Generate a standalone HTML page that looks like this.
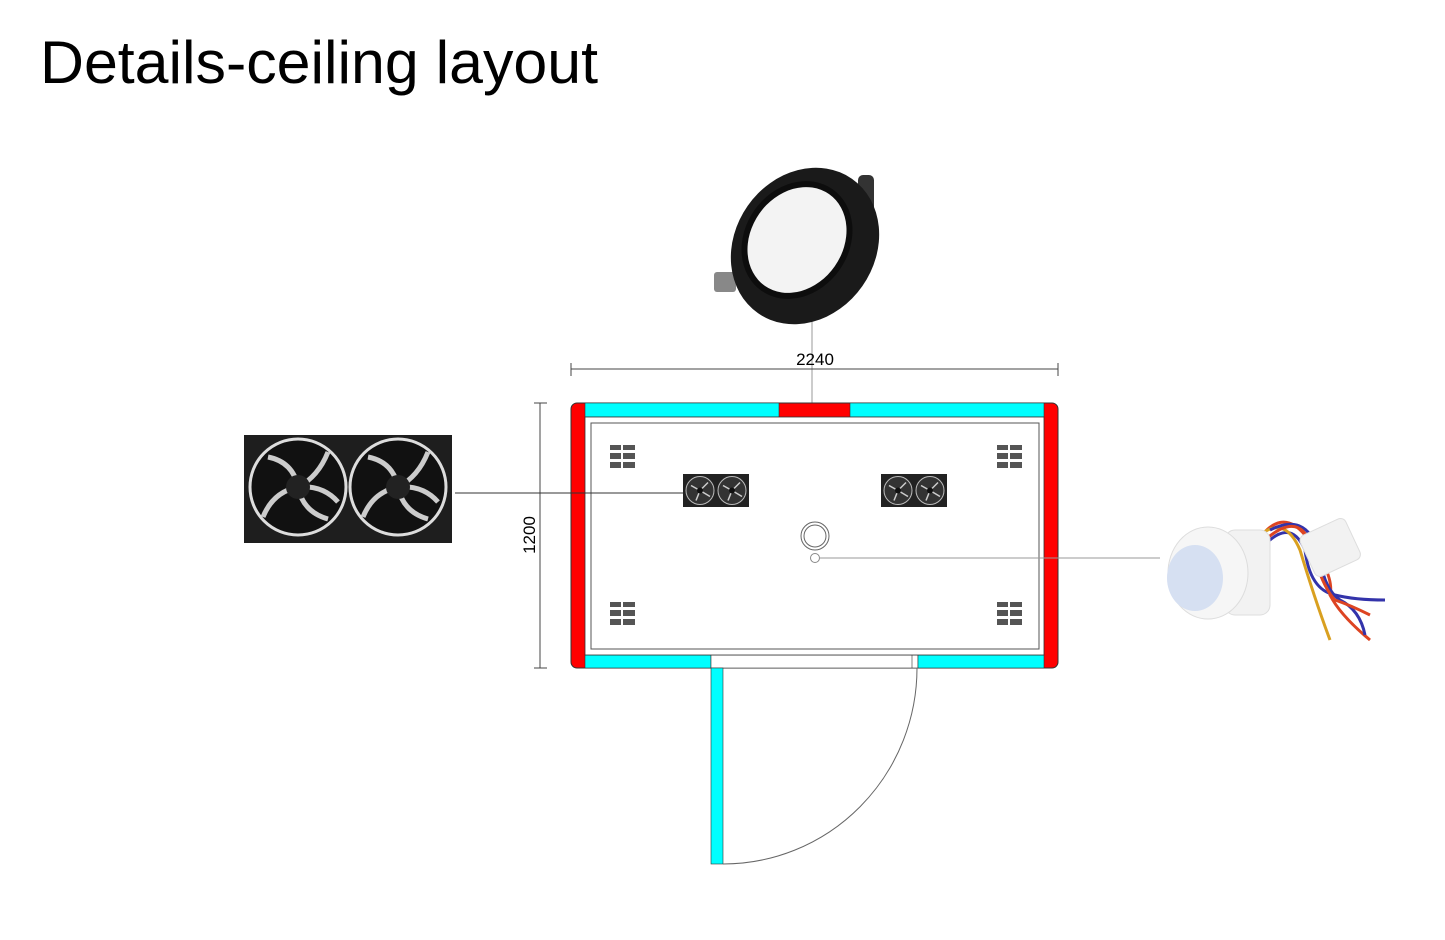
<!DOCTYPE html>
<html><head><meta charset="utf-8"><style>
body{margin:0;background:#fff;width:1445px;height:935px;overflow:hidden}
</style></head><body>
<svg width="1445" height="935" viewBox="0 0 1445 935" xmlns="http://www.w3.org/2000/svg">
<defs>
<g id="v" fill="#555"><rect x="0" y="0" width="11" height="5"/><rect x="13" y="0" width="12" height="5"/><rect x="0" y="8" width="11" height="6"/><rect x="13" y="8" width="12" height="6"/><rect x="0" y="17" width="11" height="6"/><rect x="13" y="17" width="12" height="6"/></g>
<g id="sf">
<rect x="0" y="0" width="66" height="33" fill="#222"/>
<circle cx="17" cy="16.5" r="14" fill="#333" stroke="#bbb" stroke-width="1"/>
<circle cx="49" cy="16.5" r="14" fill="#333" stroke="#bbb" stroke-width="1"/>
<g stroke="#ccc" stroke-width="1.5" fill="none">
<path d="M17 16.5 l8 -8"/><path d="M17 16.5 l-9 -5"/><path d="M17 16.5 l-4 10"/><path d="M17 16.5 l10 6"/>
<path d="M49 16.5 l8 -8"/><path d="M49 16.5 l-9 -5"/><path d="M49 16.5 l-4 10"/><path d="M49 16.5 l10 6"/>
</g>
<circle cx="17" cy="16.5" r="3" fill="#111"/><circle cx="49" cy="16.5" r="3" fill="#111"/>
</g>
</defs>
<text x="40" y="83" font-family="Liberation Sans, sans-serif" font-size="60" textLength="558" lengthAdjust="spacingAndGlyphs" fill="#000">Details-ceiling layout</text>

<!-- downlight -->
<g>
<rect x="714" y="272" width="22" height="20" fill="#888" rx="3"/>
<rect x="858" y="175" width="16" height="50" fill="#333" rx="5"/>
<ellipse cx="805" cy="246" rx="70" ry="82" transform="rotate(35 805 246)" fill="#1a1a1a"/>
<ellipse cx="797" cy="240" rx="52" ry="62" transform="rotate(35 797 240)" fill="#0d0d0d"/>
<ellipse cx="797" cy="240" rx="46" ry="56" transform="rotate(35 797 240)" fill="#f3f3f3"/>
</g>
<line x1="812" y1="322" x2="812" y2="522" stroke="#999" stroke-width="1"/>

<!-- dimension lines -->
<line x1="571" y1="369" x2="1058" y2="369" stroke="#444" stroke-width="1"/>
<line x1="571" y1="363" x2="571" y2="376" stroke="#444"/>
<line x1="1058" y1="363" x2="1058" y2="376" stroke="#444"/>
<text x="815" y="365" text-anchor="middle" font-family="Liberation Sans Narrow, Liberation Sans, sans-serif" font-size="17">2240</text>
<line x1="540" y1="403" x2="540" y2="668" stroke="#444"/>
<line x1="534" y1="403" x2="547" y2="403" stroke="#444"/>
<line x1="534" y1="668" x2="547" y2="668" stroke="#444"/>
<text transform="translate(535 535) rotate(-90)" text-anchor="middle" font-family="Liberation Sans Narrow, Liberation Sans, sans-serif" font-size="17">1200</text>

<!-- walls -->
<rect x="571" y="403" width="487" height="265" rx="6" fill="#f00" stroke="#333" stroke-width="1"/>
<rect x="585" y="403" width="194" height="14" fill="#0ff" stroke="#333" stroke-width="0.6"/>
<rect x="850" y="403" width="194" height="14" fill="#0ff" stroke="#333" stroke-width="0.6"/>
<rect x="585" y="655" width="126" height="13" fill="#0ff" stroke="#333" stroke-width="0.6"/>
<rect x="711" y="655" width="207" height="13" fill="#fff" stroke="#333" stroke-width="0.6"/>
<rect x="912" y="655" width="6" height="13" fill="#fff" stroke="#333" stroke-width="0.6"/>
<rect x="918" y="655" width="126" height="13" fill="#0ff" stroke="#333" stroke-width="0.6"/>
<rect x="585" y="417" width="459" height="238" fill="#fff" stroke="#333" stroke-width="0.8"/>
<rect x="591" y="423" width="448" height="226" fill="#fff" stroke="#555" stroke-width="1"/>

<use href="#v" x="610" y="445"/><use href="#v" x="997" y="445"/><use href="#v" x="610" y="602"/><use href="#v" x="997" y="602"/>
<use href="#sf" x="683" y="474"/><use href="#sf" x="881" y="474"/>

<!-- light & sensor -->
<circle cx="815" cy="536" r="14" fill="none" stroke="#666"/>
<circle cx="815" cy="536" r="11" fill="none" stroke="#666"/>
<circle cx="815" cy="558" r="4.5" fill="#fff" stroke="#888"/>
<line x1="820" y1="558" x2="1160" y2="558" stroke="#999"/>
<line x1="455" y1="493" x2="683" y2="493" stroke="#333"/>

<!-- door -->
<rect x="711" y="668" width="12" height="196" fill="#0ff" stroke="#333" stroke-width="0.6"/>
<path d="M723 864 A194 196 0 0 0 917 668" fill="none" stroke="#666" stroke-width="1"/>

<!-- big fan -->
<g>
<rect x="244" y="435" width="208" height="108" fill="#1e1e1e"/>
<circle cx="298" cy="487" r="48" fill="#111" stroke="#ddd" stroke-width="3"/>
<circle cx="398" cy="487" r="48" fill="#111" stroke="#ddd" stroke-width="3"/>
<g stroke="#ccc" stroke-width="5" fill="none">
<path d="M298 487 q20 -10 30 -35"/><path d="M298 487 q-5 -25 -30 -30"/><path d="M298 487 q-25 5 -35 30"/><path d="M298 487 q5 25 30 32"/><path d="M298 487 q25 -2 40 15"/>
<path d="M398 487 q20 -10 30 -35"/><path d="M398 487 q-5 -25 -30 -30"/><path d="M398 487 q-25 5 -35 30"/><path d="M398 487 q5 25 30 32"/><path d="M398 487 q25 -2 40 15"/>
</g>
<circle cx="298" cy="487" r="12" fill="#222"/><circle cx="398" cy="487" r="12" fill="#222"/>
</g>

<!-- PIR sensor -->
<g>
<g fill="none" stroke-width="3">
<path d="M1255 545 q25 -40 50 -10 q30 40 25 60 q10 20 40 45" stroke="#d42"/>
<path d="M1260 550 q30 -35 45 0 q5 40 30 45 q20 5 50 5" stroke="#33a"/>
<path d="M1260 535 q25 -20 40 15 q15 50 30 90" stroke="#d9a020"/>
<path d="M1270 530 q40 -20 50 30 q5 30 20 40 q20 10 25 35" stroke="#33a"/>
<path d="M1265 540 q40 -35 50 20 q10 30 20 40 q15 5 35 15" stroke="#d42"/>
</g>
<rect x="1305" y="525" width="50" height="45" rx="6" fill="#f2f2f2" stroke="#ddd" transform="rotate(-25 1330 547)"/>
<rect x="1225" y="530" width="45" height="85" rx="10" fill="#f2f2f2" stroke="#ddd"/>
<ellipse cx="1208" cy="573" rx="40" ry="46" fill="#f6f6f6" stroke="#ddd"/>
<ellipse cx="1195" cy="578" rx="28" ry="33" fill="#d6e0f2"/>
</g>
</svg>
</body></html>
